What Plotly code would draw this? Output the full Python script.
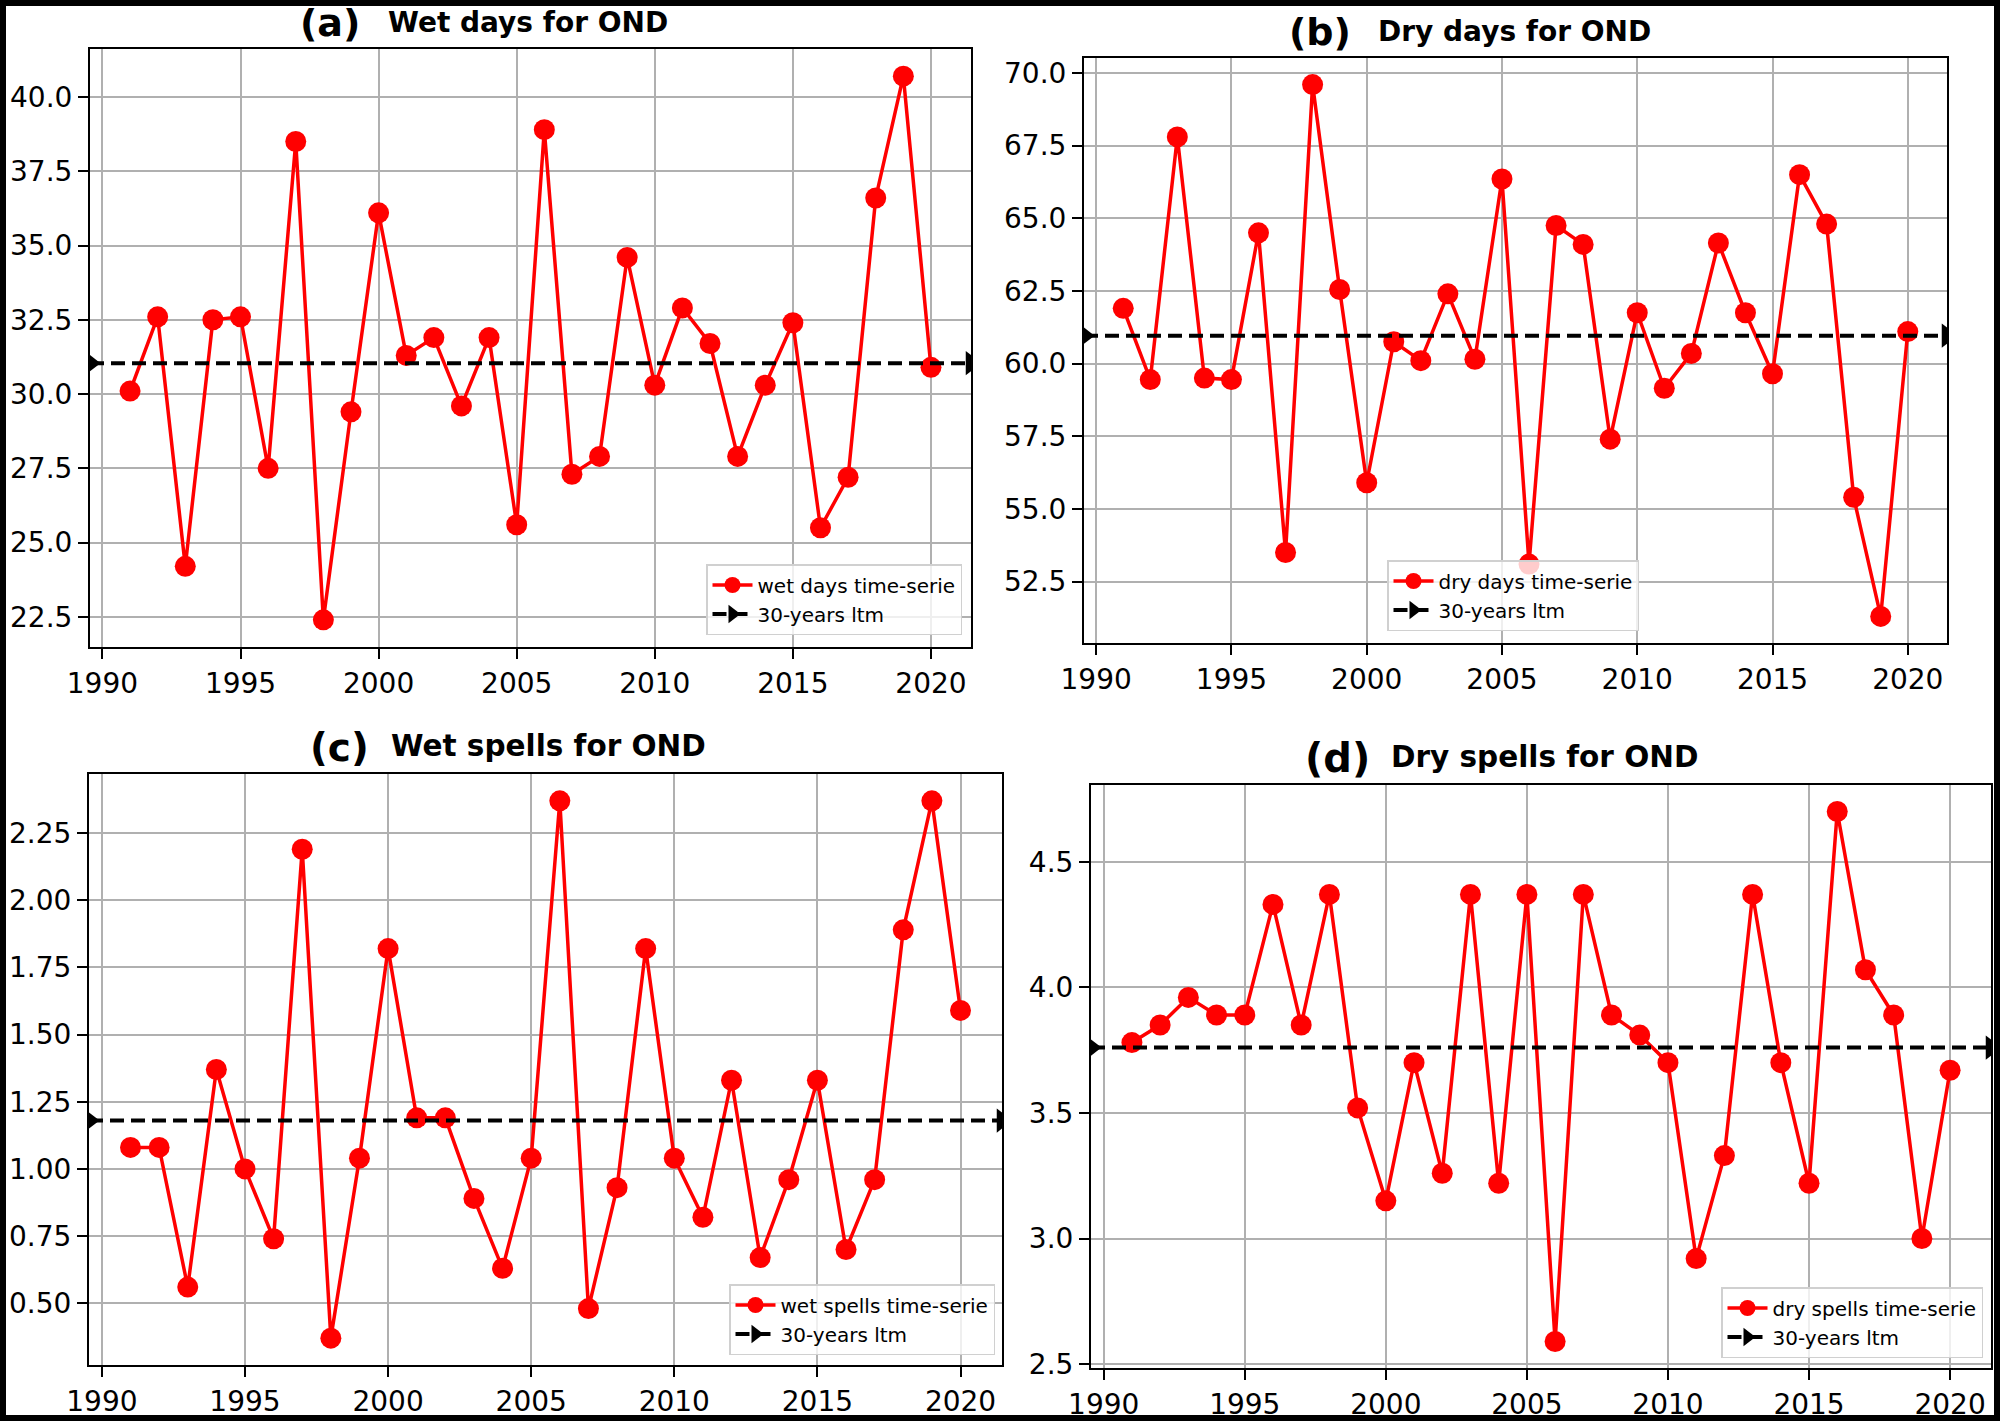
import plotly.graph_objects as go

# data (OND season, 1991-2020)
years = [1991, 1992, 1993, 1994, 1995, 1996, 1997, 1998, 1999, 2000,
         2001, 2002, 2003, 2004, 2005, 2006, 2007, 2008, 2009, 2010,
         2011, 2012, 2013, 2014, 2015, 2016, 2017, 2018, 2019, 2020]

wet_days = [30.1, 32.6, 24.2, 32.5, 32.6, 27.5, 38.5, 22.4, 29.4, 36.1,
            31.3, 31.9, 29.6, 31.9, 25.6, 38.9, 27.3, 27.9, 34.6, 30.3,
            32.9, 31.7, 27.9, 30.3, 32.4, 25.5, 27.2, 36.6, 40.7, 30.9]
dry_days = [61.9, 59.45, 67.8, 59.5, 59.45, 64.5, 53.5, 69.6, 62.55, 55.9,
            60.75, 60.1, 62.4, 60.15, 66.35, 53.1, 64.75, 64.1, 57.4, 61.75,
            59.15, 60.35, 64.15, 61.75, 59.65, 66.5, 64.8, 55.4, 51.3, 61.1]
wet_spells = [1.08, 1.08, 0.56, 1.37, 1.00, 0.74, 2.19, 0.37, 1.04, 1.82,
              1.19, 1.19, 0.89, 0.63, 1.04, 2.37, 0.48, 0.93, 1.82, 1.04,
              0.82, 1.33, 0.67, 0.96, 1.33, 0.70, 0.96, 1.89, 2.37, 1.59]
dry_spells = [3.78, 3.85, 3.96, 3.89, 3.89, 4.33, 3.85, 4.37, 3.52, 3.15,
              3.70, 3.26, 4.37, 3.22, 4.37, 2.59, 4.37, 3.89, 3.81, 3.70,
              2.92, 3.33, 4.37, 3.70, 3.22, 4.70, 4.07, 3.89, 3.00, 3.67]

ltm_values = [31.04, 60.96, 1.18, 3.76]
series_names = ['wet days time-serie', 'dry days time-serie',
                'wet spells time-serie', 'dry spells time-serie']
panel_letters = ['(a)', '(b)', '(c)', '(d)']
panel_titles = ['Wet days for OND', 'Dry days for OND',
                'Wet spells for OND', 'Dry spells for OND']

W, H = 2000, 1421
FONT = 'DejaVu Sans'

# pixel boxes of each axes: left, right, top, bottom
boxes = [(90, 971, 49, 647), (1084, 1947, 58, 643),
         (89, 1002, 774, 1365), (1091, 1991, 785, 1368)]
ydticks = [2.5, 2.5, 0.25, 0.5]
yformats = ['.1f', '.1f', '.2f', '.1f']
# title pieces: letter left, text left, centre y, letter size, text size
title_pos = [(298, 386, 22, 38, 28), (1287, 1376, 31, 38, 28),
             (308, 389, 746, 39, 29.5), (1303, 1389, 757, 40, 29.5)]
# legend anchor: x, y (px), xanchor
legend_pos = [(962, 635, 'right'), (1513, 631, 'center'),
              (995, 1355, 'right'), (1983, 1358, 'right')]

xlo = years[0] - 0.05 * (years[-1] - years[0])
xhi = years[-1] + 0.05 * (years[-1] - years[0])

fig = go.Figure()
layout = dict(width=W, height=H, margin=dict(l=0, r=0, t=0, b=0, autoexpand=False),
              paper_bgcolor='white', plot_bgcolor='white',
              font=dict(family=FONT, color='black'),
              showlegend=True, annotations=[], shapes=[])

all_series = [wet_days, dry_days, wet_spells, dry_spells]
for i, vals in enumerate(all_series):
    n = '' if i == 0 else str(i + 1)
    leg = 'legend' + n
    fig.add_trace(go.Scatter(
        x=years, y=vals, name=series_names[i], mode='lines+markers',
        line=dict(color='red', width=3.5),
        marker=dict(color='red', size=21, line=dict(width=0)),
        xaxis='x' + n, yaxis='y' + n, legend=leg))
    fig.add_trace(go.Scatter(
        x=[xlo, xhi], y=[ltm_values[i], ltm_values[i]], name='30-years ltm',
        mode='lines+markers',
        line=dict(color='black', width=4, dash='14px,7px'),
        marker=dict(color='black', size=21, symbol='triangle-right'),
        xaxis='x' + n, yaxis='y' + n, legend=leg))

    l, r, t, b = boxes[i]
    span = max(vals) - min(vals)
    axis_common = dict(showline=True, linecolor='black', linewidth=2, mirror=True,
                       ticks='outside', ticklen=10, tickwidth=2, tickcolor='black',
                       showgrid=True, gridcolor='#b0b0b0', gridwidth=2,
                       zeroline=False, automargin=False,
                       tickfont=dict(size=28, family=FONT, color='black'))
    layout['xaxis' + n] = dict(domain=[l / W, r / W], anchor='y' + n,
                               range=[xlo, xhi], tick0=1990, dtick=5, **axis_common)
    layout['yaxis' + n] = dict(domain=[1 - b / H, 1 - t / H], anchor='x' + n,
                               range=[min(vals) - 0.05 * span, max(vals) + 0.05 * span],
                               dtick=ydticks[i], tick0=0, tickformat=yformats[i],
                               **axis_common)

    lx, ly, lxa = legend_pos[i]
    layout[leg] = dict(x=lx / W, y=1 - ly / H, xanchor=lxa, yanchor='bottom',
                       bgcolor='rgba(255,255,255,0.8)', bordercolor='#d0d0d0',
                       borderwidth=1.5, font=dict(size=20, family=FONT, color='black'),
                       itemwidth=40, tracegroupgap=0)

    px_l, px_t, cy, s1, s2 = title_pos[i]
    layout['annotations'].append(dict(
        text='<b>' + panel_letters[i] + '</b>', x=px_l / W, y=1 - (cy + 1) / H,
        xref='paper', yref='paper', xanchor='left', yanchor='middle',
        showarrow=False, font=dict(size=s1, family=FONT, color='black')))
    layout['annotations'].append(dict(
        text='<b>' + panel_titles[i] + '</b>', x=px_t / W, y=1 - cy / H,
        xref='paper', yref='paper', xanchor='left', yanchor='middle',
        showarrow=False, font=dict(size=s2, family=FONT, color='black')))

# black frame round the whole picture
layout['shapes'].append(dict(type='rect', xref='paper', yref='paper',
                             x0=0, x1=1, y0=0, y1=1,
                             line=dict(color='black', width=12)))

fig.update_layout(**layout)

fig.write_html("out.html", config={'displayModeBar': False},
               post_script="document.body.style.margin='0';")
